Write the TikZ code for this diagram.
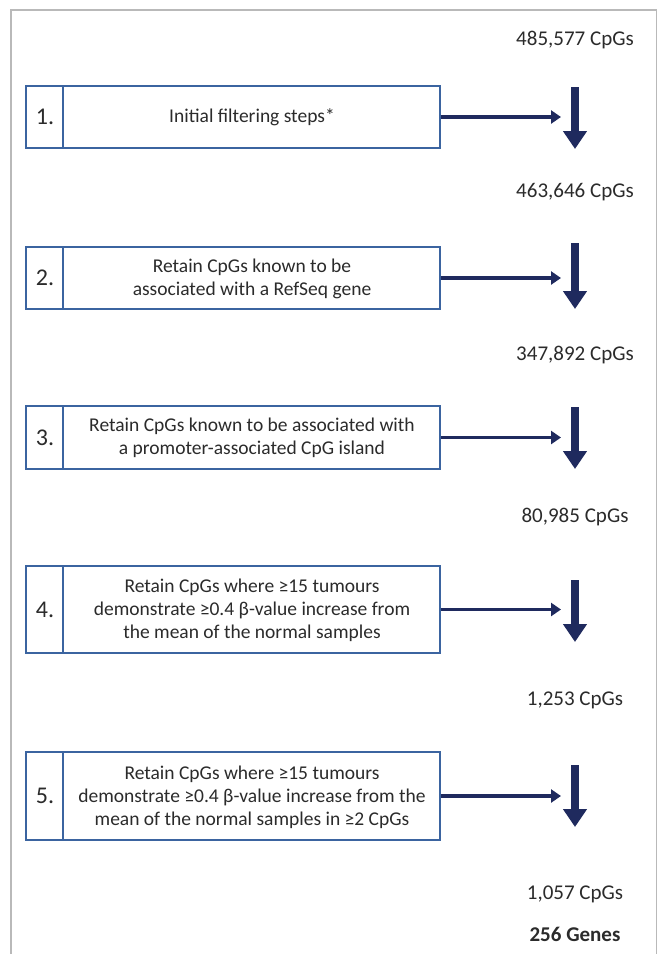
\documentclass[tikz,border=0pt]{standalone}
\usepackage{fontspec}
\setmainfont{Carlito}
\usetikzlibrary{arrows.meta}
\definecolor{boxblue}{HTML}{3B64A0}
\definecolor{navy}{HTML}{1F2A5E}
\definecolor{txt}{HTML}{2B2B2B}
\begin{document}
\begin{tikzpicture}[x=1pt,y=-1pt,
 stepbox/.style={draw=boxblue, line width=2pt, minimum width=414pt, inner sep=0pt},
 numlbl/.style={text=txt, font=\fontsize{24}{26}\selectfont},
 desc/.style={text=txt, align=center, font=\fontsize{19.5}{23}\selectfont},
 count/.style={text=txt, font=\fontsize{21}{24}\selectfont},
 flow/.style={navy, line width=3.5pt, -{Triangle[length=10pt,width=13pt]}},
 drop/.style={navy, line width=8pt, -{Triangle[length=18pt,width=23pt]}},
 divider/.style={draw=boxblue, line width=1.6pt}
]
\useasboundingbox (0,0) rectangle (659,954);
\fill[white] (0,0) rectangle (659,954);
\draw[gray!55, line width=1.2pt] (11,954) -- (11,10) -- (656.5,10) -- (656.5,954);

% counts
\node[count] (c0) at (575,40) {485,577 CpGs};
\node[count] (c1) at (575,192) {463,646 CpGs};
\node[count] (c2) at (575,355) {347,892 CpGs};
\node[count] (c3) at (575,517) {80,985 CpGs};
\node[count] (c4) at (575,700) {1,253 CpGs};
\node[count] (c5) at (575,894) {1,057 CpGs};
\node[count, font=\fontsize{21}{24}\selectfont\bfseries] (g) at (575,934) {256 Genes};

% boxes
\node[stepbox, minimum height=62pt] (b1) at (233,117) {};
\node[stepbox, minimum height=62pt] (b2) at (233,278) {};
\node[stepbox, minimum height=63pt] (b3) at (233,437.5) {};
\node[stepbox, minimum height=87pt] (b4) at (233,609.5) {};
\node[stepbox, minimum height=88pt] (b5) at (233,796) {};

\foreach \b in {b1,b2,b3,b4,b5}{
  \draw[divider] ([xshift=38pt]\b.north west) -- ([xshift=38pt]\b.south west);
}

\node[numlbl] (n1) at (45,117) {1.};
\node[numlbl] (n2) at (45,278) {2.};
\node[numlbl] (n3) at (45,437.5) {3.};
\node[numlbl] (n4) at (45,609.5) {4.};
\node[numlbl] (n5) at (45,796) {5.};

\node[desc] (t1) at (252,117) {Initial filtering steps*};
\node[desc] (t2) at (252,279) {Retain CpGs known to be\\associated with a RefSeq gene};
\node[desc] (t3) at (252,438) {Retain CpGs known to be associated with\\a promoter-associated CpG island};
\node[desc] (t4) at (252,610) {Retain CpGs where ≥15 tumours\\demonstrate ≥0.4 β-value increase from\\the mean of the normal samples};
\node[desc] (t5) at (252,797) {Retain CpGs where ≥15 tumours\\demonstrate ≥0.4 β-value increase from the\\mean of the normal samples in ≥2 CpGs};

% arrow coordinates
\coordinate (h1) at (561,117);
\coordinate (h2) at (561,278);
\coordinate (h3) at (561,437.5);
\coordinate (h4) at (561,609.5);
\coordinate (h5) at (561,796);
\coordinate (d1a) at (575,87);  \coordinate (d1b) at (575,149);
\coordinate (d2a) at (575,243); \coordinate (d2b) at (575,309);
\coordinate (d3a) at (575,407); \coordinate (d3b) at (575,469);
\coordinate (d4a) at (575,580); \coordinate (d4b) at (575,642);
\coordinate (d5a) at (575,765); \coordinate (d5b) at (575,827);

\foreach \i in {1,...,5}{
  \draw[flow] (b\i.east) -- (h\i);
  \draw[drop] (d\i a) -- (d\i b);
}
\end{tikzpicture}
\end{document}
